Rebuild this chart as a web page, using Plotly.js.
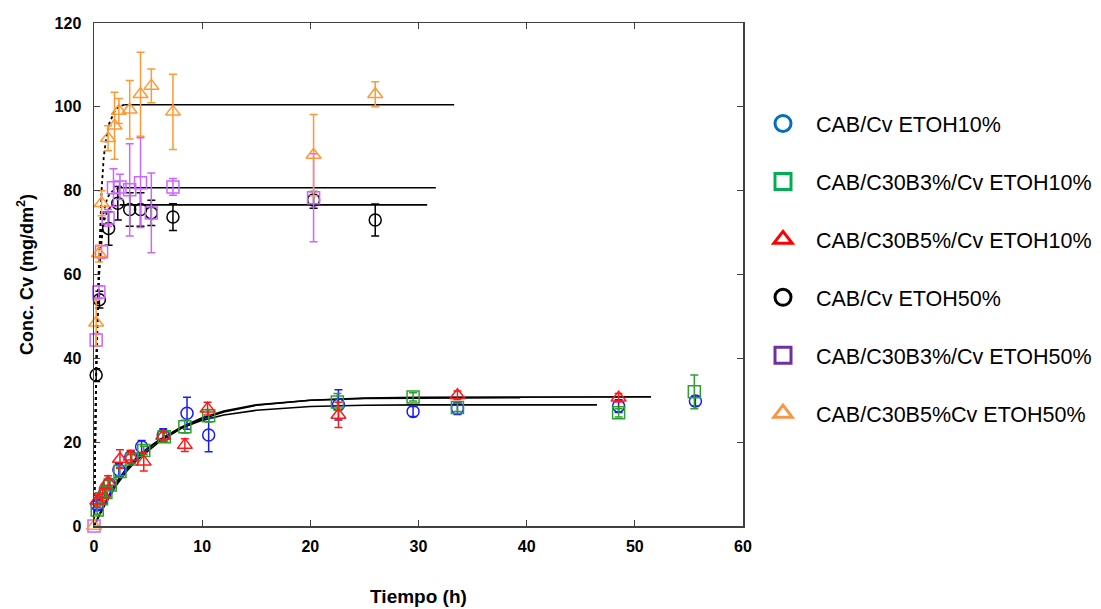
<!DOCTYPE html>
<html>
<head>
<meta charset="utf-8">
<script src="https://cdn.plot.ly/plotly-3.0.1.min.js"></script>
<style>html,body{margin:0;padding:0;background:#fff;}#chart{width:1101px;height:609px;}</style>
</head>
<body>
<div id="chart"></div>
<script>
// ---- Series names (legend) ----
var seriesNames = ["CAB/Cv ETOH10%", "CAB/C30B3%/Cv ETOH10%", "CAB/C30B5%/Cv ETOH10%",
                   "CAB/Cv ETOH50%", "CAB/C30B3%/Cv ETOH50%", "CAB/C30B5%Cv ETOH50%"];

// ---- ETOH10% data ----
var tBlue = [0.3, 0.7, 1.0, 1.4, 2.3, 3.4, 4.4, 6.4, 8.6, 10.6, 22.6, 29.5, 33.6, 48.5, 55.6];
var cBlue = [5.0, 6.5, 8.0, 10.0, 13.4, 16.5, 18.9, 21.7, 26.9, 21.7, 28.9, 27.3, 28.1, 28.6, 29.8];
var eBlue = [1.0, 1.0, 1.0, 1.0, 1.5, 1.5, 1.5, 1.5, 3.8, 4.0, 3.6, 1.2, 1.5, 1.5, 1.2];

var tGreen = [0.3, 0.7, 1.1, 1.5, 2.4, 3.5, 4.6, 6.5, 8.4, 10.6, 22.5, 29.5, 33.6, 48.5, 55.5];
var cGreen = [3.8, 6.5, 8.0, 9.8, 13.0, 16.0, 18.0, 21.3, 23.7, 26.3, 29.6, 30.8, 28.3, 27.0, 32.0];
var eGreen = [1.0, 1.0, 1.0, 1.0, 1.0, 1.0, 1.0, 1.0, 1.5, 1.5, 2.0, 1.0, 1.0, 1.0, 4.0];

var tRed = [0.3, 0.8, 1.3, 2.4, 3.4, 4.6, 6.4, 8.4, 10.5, 22.6, 33.6, 48.5];
var cRed = [6.0, 7.5, 10.5, 16.0, 16.5, 15.3, 21.5, 19.3, 28.0, 26.5, 31.2, 30.6];
var eRed = [1.5, 1.5, 1.5, 2.2, 1.5, 2.2, 1.0, 1.5, 1.5, 3.0, 1.0, 1.0];

// ---- ETOH50% data ----
var tBlack = [0.2, 0.5, 1.35, 2.2, 3.3, 4.3, 5.3, 7.3, 20.3, 26.0];
var cBlack = [36.0, 54.0, 71.0, 77.0, 75.5, 75.5, 74.7, 73.7, 77.8, 73.0];
var eBlack = [1.5, 2.0, 4.0, 4.0, 4.0, 4.0, 3.0, 3.2, 2.0, 3.8];

var tPurple = [0, 0.2, 0.45, 0.7, 1.3, 1.8, 2.4, 3.3, 4.3, 5.3, 7.3, 20.3];
var cPurple = [0, 44.4, 55.8, 65.4, 73.5, 80.7, 80.9, 80.2, 81.9, 74.7, 80.9, 78.3];
var ePurple = [0, 1.5, 1.5, 1.5, 2.0, 4.5, 3.0, 11.0, 10.7, 9.5, 2.0, 10.5];

var tOrange = [0, 0.2, 0.46, 0.7, 1.3, 1.9, 2.3, 3.3, 4.3, 5.3, 7.3, 20.3, 26.0];
var cOrange = [0, 48.5, 65.0, 77.0, 92.5, 95.5, 99.0, 99.3, 103.0, 105.0, 98.8, 88.5, 103.0];
var eOrange = [0, 5.5, 2.0, 3.0, 3.0, 8.0, 3.0, 7.0, 10.0, 4.0, 9.0, 9.7, 3.0];

// ---- Fitted curves ----
var tFitA = [0, 1, 2, 3, 4, 5, 6, 8, 10, 12, 15, 20, 25, 30, 40, 51.5];
var cFitA = [0, 5.0, 9.5, 13.0, 15.8, 18.0, 20.0, 23.2, 25.5, 27.2, 28.8, 30.0, 30.5, 30.7, 30.8, 30.8];
var tFitB = [0, 1, 2, 3, 4, 5, 6, 8, 10, 12, 15, 20, 25, 30, 39.4];
var cFitB = [0, 5.3, 10.0, 13.5, 16.3, 18.5, 20.5, 23.5, 25.8, 27.4, 28.9, 30.0, 30.4, 30.5, 30.6];
var tFitC = [0, 1, 2, 3, 4, 5, 6, 8, 10, 12, 15, 20, 25, 30, 46.5];
var cFitC = [0, 5.5, 10.2, 13.8, 16.5, 18.7, 20.5, 23.3, 25.2, 26.5, 27.6, 28.5, 28.8, 28.9, 28.9];

var tDotOrange = [0, 0.1, 0.2, 0.35, 0.5, 0.7, 0.9, 1.1, 1.4, 1.7, 2.0, 2.4, 2.8];
var cDotOrange = [0, 21, 37, 55, 68, 80, 88, 92, 96, 98, 99.5, 100.2, 100.5];
var tDotPurple = [0, 0.1, 0.2, 0.35, 0.5, 0.7, 0.9, 1.2, 1.5, 2.0, 2.4];
var cDotPurple = [0, 21, 36, 52, 62, 70, 75, 78, 79.5, 80.3, 80.7];
var tDotBlack = [0, 0.1, 0.2, 0.35, 0.5, 0.7, 0.9, 1.2, 1.5, 2.0, 2.4];
var cDotBlack = [0, 20, 36, 51, 61, 68, 72.5, 75, 76, 76.4, 76.5];

var tPlatOrange = [2.8, 33.3];  var cPlatOrange = [100.5, 100.5];
var tPlatPurple = [2.4, 31.6];  var cPlatPurple = [80.7, 80.7];
var tPlatBlack  = [2.4, 30.8];  var cPlatBlack  = [76.6, 76.6];

// ---- Styles ----
var plotColors = ["#1a1aff", "#2ca02c", "#ff1a1a", "#000000", "#cc66ff", "#ff9933"];
var legendColors = ["#0070c0", "#00b050", "#ff0000", "#000000", "#7030a0", "#f79646"];
var symbols = ["circle-open", "square-open", "triangle-up-open", "circle-open", "square-open", "triangle-up-open"];
var fontFam = "Arial, 'Liberation Sans', sans-serif";

var traces = [];
function fitLine(x, y, dash, w) {
  traces.push({x: x, y: y, type: "scatter", mode: "lines", showlegend: false, hoverinfo: "skip",
    line: {color: "#000000", width: w || 1.6, dash: dash || "solid"}});
}
fitLine(tFitA, cFitA); fitLine(tFitB, cFitB); fitLine(tFitC, cFitC);
fitLine(tDotOrange, cDotOrange, "dot", 1.8);
fitLine(tDotPurple, cDotPurple, "dot", 1.8);
fitLine(tDotBlack, cDotBlack, "dot", 1.8);
fitLine(tPlatOrange, cPlatOrange); fitLine(tPlatPurple, cPlatPurple); fitLine(tPlatBlack, cPlatBlack);

var dataSets = [[tBlue, cBlue, eBlue], [tGreen, cGreen, eGreen], [tRed, cRed, eRed],
                [tBlack, cBlack, eBlack], [tPurple, cPurple, ePurple], [tOrange, cOrange, eOrange]];
dataSets.forEach(function (d, i) {
  traces.push({x: d[0], y: d[1], type: "scatter", mode: "markers", showlegend: false, cliponaxis: false,
    error_y: {type: "data", array: d[2], visible: true, color: plotColors[i], thickness: 1.5, width: 4},
    marker: {symbol: symbols[i], color: plotColors[i], size: i === 2 || i === 5 ? 13 : 12,
             line: {color: plotColors[i], width: 1.5}}});
});
// legend entries
seriesNames.forEach(function (n, i) {
  traces.push({x: [null], y: [null], type: "scatter", mode: "markers", name: n, legendgroup: "g" + i,
    marker: {symbol: symbols[i], color: legendColors[i], size: 17, line: {color: legendColors[i], width: 3}}});
});

var layout = {
  width: 1101, height: 609,
  margin: {l: 94, r: 358, t: 23, b: 83},
  paper_bgcolor: "#ffffff", plot_bgcolor: "#ffffff",
  font: {family: fontFam, color: "#000"},
  xaxis: {range: [0, 60], dtick: 10, tick0: 0, showgrid: false, zeroline: false,
    showline: true, linecolor: "#404040", linewidth: 1.5, mirror: "ticks",
    ticks: "inside", ticklen: 6, tickwidth: 1.2, tickcolor: "#404040",
    tickfont: {size: 16, family: fontFam, weight: "bold"},
    ticklabelstandoff: 5,
    title: {text: "<b>Tiempo (h)</b>", font: {size: 19}, standoff: 36}},
  yaxis: {range: [0, 120], dtick: 20, tick0: 0, showgrid: false, zeroline: false,
    showline: true, linecolor: "#404040", linewidth: 1.5, mirror: "ticks",
    ticks: "inside", ticklen: 6, tickwidth: 1.2, tickcolor: "#404040",
    tickfont: {size: 16, family: fontFam, weight: "bold"},
    ticklabelstandoff: 8,
    title: {text: "<b>Conc. Cv (mg/dm<sup>2</sup>)</b>", font: {size: 18}, standoff: 16}},
  showlegend: true,
  legend: {xref: "container", x: 0.6812, xanchor: "left", y: 0.841, yanchor: "top", tracegroupgap: 27,
    font: {size: 21.5, family: fontFam}, itemwidth: 56,
    bgcolor: "rgba(0,0,0,0)"}
};

Plotly.newPlot("chart", traces, layout, {displayModeBar: false, staticPlot: true});
</script>
</body>
</html>
